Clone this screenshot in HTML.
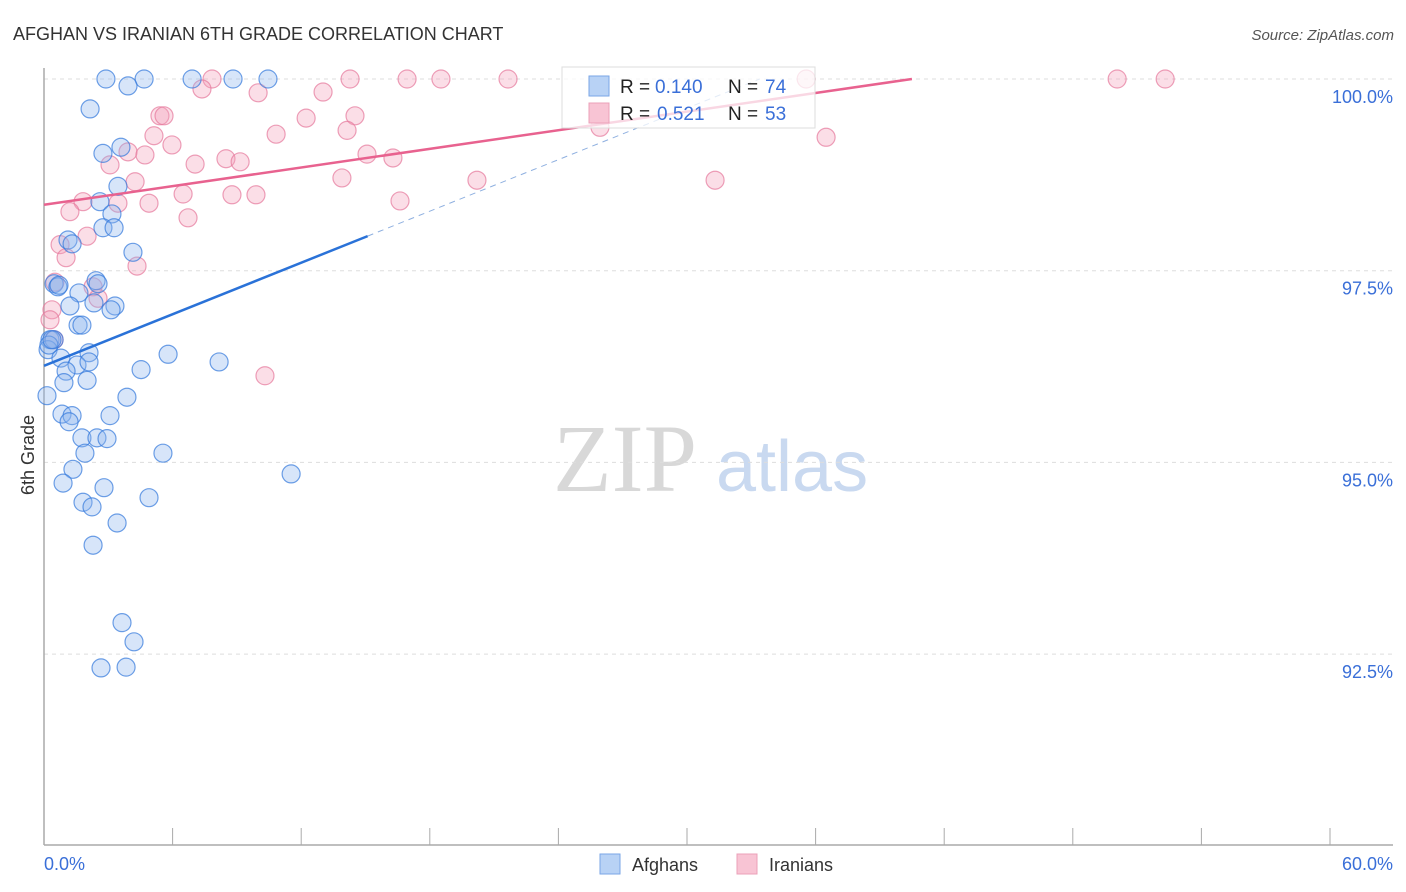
<!DOCTYPE html>
<html><head><meta charset="utf-8"><style>
body{margin:0;background:#fff;font-family:"Liberation Sans",sans-serif;}
svg{display:block}
</style></head><body>
<svg id="chart" width="1406" height="892">
<text x="13" y="40" font-size="18" fill="#333">AFGHAN VS IRANIAN 6TH GRADE CORRELATION CHART</text>
<text x="1394" y="40" font-size="15" fill="#555" font-style="italic" text-anchor="end">Source: ZipAtlas.com</text>
<g>
<text x="553" y="491" font-size="96" font-family="Liberation Serif,serif" fill="#d8d8d8">ZIP</text>
<text x="716" y="491" font-size="72" fill="#c9d9f0">atlas</text>
</g>
<g id="grid"></g>
<g id="axes"></g>
<g id="pts"></g>
<g id="trend"></g>
<text transform="translate(34,455) rotate(-90)" font-size="18" fill="#333" text-anchor="middle">6th Grade</text>
<text x="44" y="870" font-size="18" fill="#3a6fd8">0.0%</text>
<text x="1393" y="870" font-size="18" fill="#3a6fd8" text-anchor="end">60.0%</text>
<g>
<rect x="562" y="67" width="253" height="61" fill="rgba(255,255,255,0.75)" stroke="#ddd"/>
<rect x="589" y="76" width="20" height="20" fill="#b8d2f5" stroke="#7aa6e6"/>
<text x="620" y="93" font-size="19" fill="#222">R =</text>
<text x="655" y="93" font-size="19" fill="#3a6fd8">0.140</text>
<text x="728" y="93" font-size="19" fill="#222">N =</text>
<text x="765" y="93" font-size="19" fill="#3a6fd8">74</text>
<rect x="589" y="103" width="20" height="20" fill="#f8c4d4" stroke="#eba0b8"/>
<text x="620" y="120" font-size="19" fill="#222">R =</text>
<text x="657" y="120" font-size="19" fill="#3a6fd8">0.521</text>
<text x="728" y="120" font-size="19" fill="#222">N =</text>
<text x="765" y="120" font-size="19" fill="#3a6fd8">53</text>
</g>
<g>
<rect x="600" y="854" width="20" height="20" fill="#b8d2f5" stroke="#7aa6e6"/>
<text x="632" y="871" font-size="18" fill="#333">Afghans</text>
<rect x="737" y="854" width="20" height="20" fill="#f8c4d4" stroke="#eba0b8"/>
<text x="769" y="871" font-size="18" fill="#333">Iranians</text>
</g>
</svg>
<script>
const yTicks=[100,97.5,95,92.5];
const yTickLabels=["100.0%","97.5%","95.0%","92.5%"];
const afghanX=[2.89,4.67,6.91,8.82,10.45,3.92,2.15,2.75,3.59,3.45,2.61,3.17,2.75,3.27,1.12,1.31,4.15,0.47,0.65,1.63,2.43,2.52,2.33,3.31,3.13,1.21,1.59,1.77,0.28,0.47,0.19,0.79,2.10,1.54,2.10,5.79,8.17,1.03,4.53,0.93,2.01,0.14,3.87,0.84,1.31,1.17,3.08,1.77,2.47,2.94,1.91,5.55,1.35,11.53,0.89,2.80,1.82,2.24,4.90,3.41,2.29,3.64,4.20,2.66,3.83,0.23,0.70,0.37];
const afghanY=[100,100,100,100,100,99.91,99.61,99.03,99.11,98.60,98.40,98.24,98.06,98.06,97.90,97.85,97.74,97.33,97.29,97.21,97.37,97.33,97.08,97.04,96.99,97.04,96.79,96.79,96.60,96.60,96.47,96.36,96.43,96.27,96.31,96.41,96.31,96.19,96.21,96.04,96.07,95.87,95.85,95.63,95.61,95.53,95.61,95.32,95.32,95.31,95.12,95.12,94.91,94.85,94.73,94.67,94.48,94.42,94.54,94.21,93.92,92.91,92.66,92.32,92.33,96.53,97.31,96.60];
const iranX=[7.84,14.28,16.94,18.52,21.65,35.56,50.07,52.31,7.37,9.99,13.02,5.41,5.60,12.23,14.51,5.13,10.83,14.14,5.97,3.92,4.71,8.49,9.15,15.07,16.28,7.05,3.08,4.25,13.90,20.20,31.31,25.94,36.49,6.49,8.77,9.89,3.45,4.90,16.61,1.82,1.21,6.72,2.01,0.75,1.03,4.34,0.51,2.29,2.52,0.37,0.28,10.31,0.47];
const iranY=[100,100,100,100,100,100,100,100,99.87,99.82,99.83,99.52,99.52,99.49,99.52,99.26,99.28,99.33,99.14,99.05,99.01,98.96,98.92,99.02,98.97,98.89,98.88,98.66,98.71,98.68,98.68,99.37,99.24,98.50,98.49,98.49,98.38,98.38,98.41,98.40,98.27,98.19,97.95,97.84,97.67,97.56,97.35,97.29,97.14,96.99,96.86,96.13,96.60];
const afghanTrend=[96.26,0.112];
const iranTrend=[98.36,0.0405];
const X0=44,X1=1330,Y100=79,PXPER=191.7/2.5;
const sx=v=>X0+(v/60)*(X1-X0);
const sy=v=>Y100+(100-v)*PXPER;
const NS="http://www.w3.org/2000/svg";
function mk(tag,attrs,parent){const e=document.createElementNS(NS,tag);for(const k in attrs)e.setAttribute(k,attrs[k]);document.getElementById(parent).appendChild(e);return e;}
yTicks.forEach((t,i)=>{
 const l=mk('line',{x1:44,x2:1393,y1:sy(t),y2:sy(t),stroke:'#ddd','stroke-dasharray':'4,4'},'grid');
 
 
 const tx=mk('text',{x:1393,y:sy(t)+24,'font-size':18,fill:'#3a6fd8','text-anchor':'end'},'grid');
 tx.textContent=yTickLabels[i];
 
 
});
const ya=mk('line',{x1:44,x2:44,y1:68,y2:845,stroke:'#aaa','stroke-width':1.5},'axes');


const xa=mk('line',{x1:44,x2:1393,y1:845,y2:845,stroke:'#aaa','stroke-width':1.5},'axes');


for(let i=0;i<=10;i++){
 const t=mk('line',{x1:sx(i*6),x2:sx(i*6),y1:828,y2:845,stroke:'#aaa'},'axes');
 
 
}
function pts(xs,ys,fill,stroke,name){
 xs.forEach((x,i)=>{
  const c=mk('circle',{cx:sx(x),cy:sy(ys[i]),r:9,fill:fill,stroke:stroke,'stroke-width':1.2},'pts');
  
  
 });
}
pts(iranX,iranY,'rgba(244,160,186,0.35)','rgba(230,120,155,0.7)','iranian-point');
pts(afghanX,afghanY,'rgba(140,180,238,0.35)','rgba(50,120,220,0.7)','afghan-point');
const bEnd=15.1, bDashEnd=(100-afghanTrend[0])/afghanTrend[1];
const tb=mk('line',{x1:sx(0),y1:sy(afghanTrend[0]),x2:sx(bEnd),y2:sy(afghanTrend[0]+afghanTrend[1]*bEnd),stroke:'#2a72d8','stroke-width':2.5},'trend');


const td=mk('line',{x1:sx(bEnd),y1:sy(afghanTrend[0]+afghanTrend[1]*bEnd),x2:sx(bDashEnd),y2:sy(100),stroke:'#8fb0e0','stroke-width':1,'stroke-dasharray':'6,5'},'trend');


const pEnd=(100-iranTrend[0])/iranTrend[1];
const tp=mk('line',{x1:sx(0),y1:sy(iranTrend[0]),x2:sx(pEnd),y2:sy(100),stroke:'#e8628f','stroke-width':2.5},'trend');


</script>
</body></html>
